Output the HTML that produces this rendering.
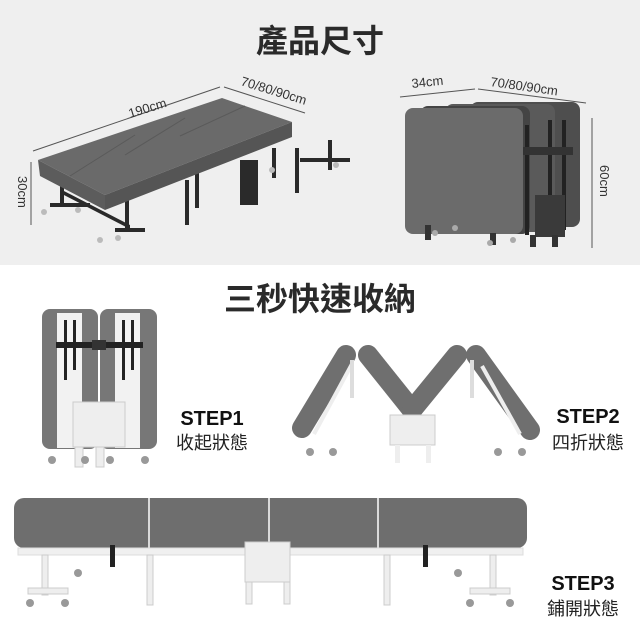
<!DOCTYPE html>
<html><head><meta charset="utf-8"><style>
html,body{margin:0;padding:0;background:#fff;width:640px;height:640px;overflow:hidden}
svg{display:block}
text{font-family:"Liberation Sans","Noto Sans CJK TC",sans-serif}
</style></head><body>
<svg width="640" height="640" viewBox="0 0 640 640" xmlns="http://www.w3.org/2000/svg">
<rect x="0" y="0" width="640" height="265" fill="#efefef"/>
<text x="320" y="52" text-anchor="middle" font-size="32" font-weight="bold" fill="#2a2a2a" font-family="Noto Sans CJK TC, sans-serif">產品尺寸</text>
<text x="320" y="310" text-anchor="middle" font-size="32" font-weight="bold" fill="#2a2a2a" font-family="Noto Sans CJK TC, sans-serif">三秒快速收納</text>

<g stroke="#555" stroke-width="1" fill="none">
<line x1="33" y1="151" x2="220" y2="87"/>
<line x1="224" y1="87" x2="305" y2="113"/>
<line x1="31" y1="162" x2="31" y2="225"/>
<line x1="400" y1="97" x2="475" y2="89"/>
<line x1="478" y1="89" x2="586" y2="103"/>
<line x1="592" y1="118" x2="592" y2="248"/>
</g>
<text x="0" y="0" font-size="13" fill="#333" transform="translate(130,118) rotate(-17)">190cm</text>
<text x="0" y="0" font-size="13" fill="#333" transform="translate(240,85) rotate(17)">70/80/90cm</text>
<text x="0" y="0" font-size="13" fill="#333" transform="translate(18,176) rotate(90)">30cm</text>
<text x="0" y="0" font-size="13" fill="#333" transform="translate(412,88) rotate(-6)">34cm</text>
<text x="0" y="0" font-size="13" fill="#333" transform="translate(490,86) rotate(8)">70/80/90cm</text>
<text x="0" y="0" font-size="13" fill="#333" transform="translate(600,165) rotate(90)">60cm</text>

<g fill="#2a2a2a">
<rect x="60" y="178" width="4" height="28"/><rect x="50" y="203" width="40" height="4"/>
<polygon points="62,190 130,225 130,229 62,194"/>
<rect x="125" y="195" width="4" height="35"/><rect x="115" y="228" width="30" height="4"/>
<rect x="185" y="180" width="4" height="45"/><rect x="195" y="168" width="4" height="40"/>
<rect x="240" y="160" width="18" height="45"/><rect x="295" y="148" width="4" height="45"/>
<rect x="328" y="140" width="4" height="30"/><rect x="300" y="158" width="50" height="4"/>
<rect x="272" y="148" width="4" height="30"/>
</g>
<g fill="#bbb"><circle cx="44" cy="212" r="3"/><circle cx="78" cy="210" r="3"/><circle cx="100" cy="240" r="3"/><circle cx="118" cy="238" r="3"/><circle cx="272" cy="170" r="3"/><circle cx="336" cy="165" r="3"/></g>
<polygon points="38,160 222,98 292,122 105,195" fill="#6a6a6a"/>
<polygon points="38,160 105,195 105,210 40,176" fill="#5c5c5c"/>
<polygon points="105,195 292,122 292,137 105,210" fill="#555"/>
<g stroke="#5a5a5a" stroke-width="1"><line x1="70" y1="176" x2="135" y2="135"/><line x1="125" y1="155" x2="185" y2="118"/><line x1="180" y1="136" x2="245" y2="106"/></g>

<rect x="470" y="102" width="110" height="125" rx="8" fill="#4e4e4e"/>
<rect x="445" y="104" width="110" height="128" rx="8" fill="#5a5a5a"/>
<rect x="420" y="106" width="110" height="128" rx="8" fill="#444"/>
<rect x="405" y="108" width="118" height="126" rx="8" fill="#6b6b6b"/>
<rect x="525" y="125" width="4" height="110" fill="#222"/><rect x="548" y="120" width="4" height="110" fill="#222"/><rect x="562" y="120" width="4" height="110" fill="#222"/>
<rect x="523" y="147" width="50" height="8" fill="#333"/>
<rect x="535" y="195" width="30" height="42" fill="#3a3a3a"/>
<g fill="#333"><rect x="425" y="225" width="6" height="15"/><rect x="490" y="233" width="6" height="12"/><rect x="530" y="235" width="6" height="12"/><rect x="552" y="235" width="6" height="12"/></g>
<g fill="#aaa"><circle cx="435" cy="233" r="3"/><circle cx="455" cy="228" r="3"/><circle cx="490" cy="243" r="3"/><circle cx="513" cy="240" r="3"/></g>

<rect x="42" y="309" width="56" height="140" rx="8" fill="#777"/>
<rect x="100" y="309" width="57" height="140" rx="8" fill="#777"/>
<rect x="57" y="313" width="25" height="135" fill="#f2f2f2"/><rect x="115" y="313" width="25" height="135" fill="#f2f2f2"/>
<rect x="64" y="320" width="3" height="60" fill="#222"/><rect x="73" y="320" width="3" height="50" fill="#222"/>
<rect x="122" y="320" width="3" height="60" fill="#222"/><rect x="131" y="320" width="3" height="50" fill="#222"/>
<rect x="56" y="342" width="87" height="6" fill="#222"/>
<rect x="92" y="340" width="14" height="10" fill="#333"/>
<rect x="73" y="402" width="52" height="45" fill="#eee" stroke="#ccc"/>
<g fill="#eee" stroke="#ccc"><rect x="75" y="447" width="8" height="20"/><rect x="96" y="447" width="8" height="20"/></g>
<g fill="#999"><circle cx="52" cy="460" r="4"/><circle cx="85" cy="460" r="4"/><circle cx="110" cy="460" r="4"/><circle cx="145" cy="460" r="4"/></g>
<text x="212" y="425" text-anchor="middle" font-size="20" font-weight="bold" fill="#111">STEP1</text>
<text x="212" y="449" text-anchor="middle" font-size="18" fill="#222" font-family="Noto Sans CJK TC, sans-serif">收起狀態</text>

<g stroke="#6f6f6f" stroke-width="20" stroke-linecap="round" fill="none">
<line x1="302" y1="428" x2="346" y2="355"/>
<line x1="368" y1="355" x2="412" y2="410"/>
<line x1="412" y1="410" x2="457" y2="355"/>
<line x1="476" y1="355" x2="530" y2="430"/>
</g>
<g stroke="#eee" stroke-width="4" fill="none">
<line x1="314" y1="434" x2="352" y2="364"/><line x1="482" y1="366" x2="520" y2="434"/>
</g>
<rect x="390" y="415" width="45" height="30" fill="#eee" stroke="#ccc"/>
<rect x="395" y="445" width="5" height="18" fill="#eee"/><rect x="426" y="445" width="5" height="18" fill="#eee"/>
<rect x="350" y="360" width="4" height="38" fill="#ddd"/><rect x="470" y="360" width="4" height="38" fill="#ddd"/>
<g fill="#999"><circle cx="310" cy="452" r="4"/><circle cx="333" cy="452" r="4"/><circle cx="498" cy="452" r="4"/><circle cx="522" cy="452" r="4"/></g>
<text x="588" y="423" text-anchor="middle" font-size="20" font-weight="bold" fill="#111">STEP2</text>
<text x="588" y="449" text-anchor="middle" font-size="18" fill="#222" font-family="Noto Sans CJK TC, sans-serif">四折狀態</text>

<rect x="14" y="498" width="513" height="50" rx="10" fill="#6e6e6e"/>
<g stroke="#fff" stroke-width="1.5"><line x1="149" y1="498" x2="149" y2="548"/><line x1="269" y1="498" x2="269" y2="548"/><line x1="378" y1="498" x2="378" y2="548"/></g>
<rect x="18" y="548" width="505" height="7" fill="#f0f0f0" stroke="#ddd"/>
<rect x="245" y="542" width="45" height="40" fill="#eee" stroke="#ccc"/>
<g fill="#eee" stroke="#ccc"><rect x="147" y="555" width="6" height="50"/><rect x="384" y="555" width="6" height="50"/><rect x="246" y="582" width="6" height="22"/><rect x="284" y="582" width="6" height="22"/><rect x="42" y="555" width="6" height="40"/><rect x="490" y="555" width="6" height="40"/><rect x="28" y="588" width="40" height="6"/><rect x="470" y="588" width="40" height="6"/></g>
<rect x="110" y="545" width="5" height="22" fill="#222"/><rect x="423" y="545" width="5" height="22" fill="#222"/>
<g fill="#999"><circle cx="30" cy="603" r="4"/><circle cx="65" cy="603" r="4"/><circle cx="470" cy="603" r="4"/><circle cx="510" cy="603" r="4"/><circle cx="78" cy="573" r="4"/><circle cx="458" cy="573" r="4"/></g>
<text x="583" y="590" text-anchor="middle" font-size="20" font-weight="bold" fill="#111">STEP3</text>
<text x="583" y="615" text-anchor="middle" font-size="18" fill="#222" font-family="Noto Sans CJK TC, sans-serif">鋪開狀態</text>
</svg>
</body></html>
